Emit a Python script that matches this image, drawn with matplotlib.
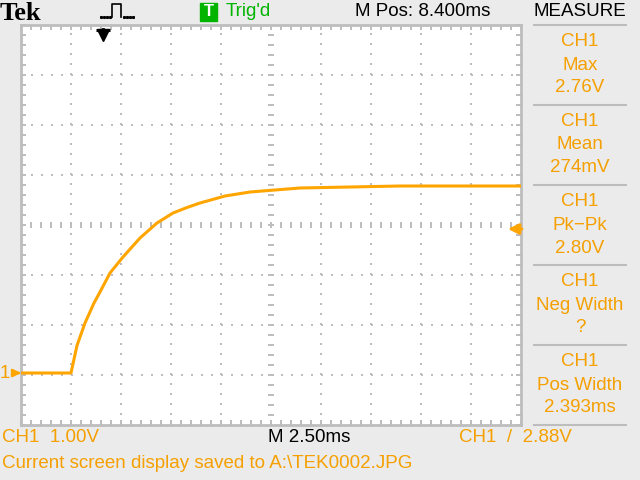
import numpy as np
import matplotlib.pyplot as plt
from matplotlib.lines import Line2D
from matplotlib.patches import Rectangle

plt.rcParams['lines.scale_dashes'] = False

# ── colours ─────────────────────────────────────────────
ORANGE = '#FFA500'
TXT_OR = '#F5A000'
GRAY   = '#BDBDBD'
BG     = '#EBEBEB'
GREEN  = '#00B400'
FONT   = ['Liberation Sans', 'DejaVu Sans']
FS     = 13.5

# ── scope settings ──────────────────────────────────────
sec_div    = 2.5      # ms / div
volt_div   = 1.0      # V / div
m_pos      = 8.4      # ms, screen centre after trigger
ground_div = -2.96    # CH1 ground marker, div from centre
trig_level = 2.88     # V

# ── CH1 trace (ms after trigger, V) ─────────────────────
t_ms  = [-4.1, -1.6, -1.3, -0.9, -0.45, -0.15, 0.35, 1.0, 1.85, 2.7, 3.5,
         4.2, 4.85, 6.1, 7.35, 8.6, 9.85, 12.35, 14.85, 17.35, 20.9]
ch1_v = [0.0, 0.0, 0.55, 1.0, 1.4, 1.62, 2.0, 2.32, 2.7, 3.0, 3.2,
         3.31, 3.4, 3.54, 3.62, 3.66, 3.70, 3.72, 3.74, 3.74, 3.74]

measures = [('Max', '2.76V'), ('Mean', '274mV'), ('Pk\u2212Pk', '2.80V'),
            ('Neg Width', '?'), ('Pos Width', '2.393ms')]

W, H = 640, 480
def px(x, y):
    return x / W, 1 - y / H

fig = plt.figure(figsize=(6.4, 4.8), dpi=100)
fig.patch.set_facecolor(BG)

# ── graticule ───────────────────────────────────────────
ax = fig.add_axes([21 / W, 1 - 425 / H, 500 / W, 400 / H])
ax.set_facecolor('white')
x0 = m_pos - 5 * sec_div
x1 = m_pos + 5 * sec_div
yc = -ground_div * volt_div
y0, y1 = yc - 4 * volt_div, yc + 4 * volt_div
ax.set_xlim(x0, x1)
ax.set_ylim(y0, y1)

xg = np.linspace(x0, x1, 11)
yg = np.linspace(y0, y1, 9)
dots = (0, (1.44, 5.76))
for i, xv in enumerate(xg[1:-1], 1):
    if i != 5:
        ax.axvline(xv, color=GRAY, lw=1.44, ls=dots, zorder=1)
for i, yv in enumerate(yg[1:-1], 1):
    if i != 4:
        ax.axhline(yv, color=GRAY, lw=1.44, ls=dots, zorder=1)
# centre lines with minor dashes
xm = np.linspace(x0, x1, 51)[1:-1]
ym = np.linspace(y0, y1, 41)[1:-1]
ax.plot(xm, [yc] * len(xm), ls='none', marker='|', ms=4.5, mew=1.4, color=GRAY, zorder=1)
ax.plot([m_pos] * len(ym), ym, ls='none', marker='_', ms=4.5, mew=1.4, color=GRAY, zorder=1)

for s in ax.spines.values():
    s.set_color(GRAY)
    s.set_linewidth(2)
ax.set_xticks(xg)
ax.set_yticks(yg)
ax.set_xticks(np.linspace(x0, x1, 51), minor=True)
ax.set_yticks(np.linspace(y0, y1, 41), minor=True)
ax.tick_params(which='both', direction='in', length=3.5, width=1.4, color=GRAY,
               top=True, right=True, labelbottom=False, labelleft=False)

ax.plot(t_ms, ch1_v, color=ORANGE, lw=2.2, zorder=3, solid_capstyle='butt')

# ground marker, trigger level, trigger position
ax.annotate('1', xy=(x0, 0), xytext=(-11.5, 0), textcoords='offset points',
            color=TXT_OR, fontsize=FS, va='center', ha='center', family=FONT,
            arrowprops=dict(arrowstyle='-|>', color=ORANGE, lw=1.8, mutation_scale=11,
                            shrinkA=3, shrinkB=0),
            annotation_clip=False)
ax.annotate('', xy=(x1 - 0.65, trig_level), xytext=(x1 + 0.05, trig_level),
            arrowprops=dict(arrowstyle='-|>', color=ORANGE, lw=2, mutation_scale=16,
                            shrinkA=0, shrinkB=0),
            annotation_clip=False)
ax.plot([0], [y1 - 0.2], marker='v', ms=8, color='black', clip_on=False, zorder=5)
ax.plot([0], [y1 - 0.1], marker='_', ms=10, mew=2.2, color='black', clip_on=False, zorder=5)
ax.plot([0, 0], [y1 - 0.08, y1 - 0.25], color='black', lw=2, clip_on=False, zorder=5)

# ── top status bar ──────────────────────────────────────
fig.text(*px(0, 13), 'Tek', fontsize=19, fontweight='bold', family='Liberation Serif',
         va='center', ha='left')
pulse_x = [112, 112, 121, 121]
pulse_y = [17, 4, 4, 17]
fig.add_artist(Line2D([v / W for v in pulse_x], [1 - v / H for v in pulse_y],
                      color='black', lw=1.2, transform=fig.transFigure))
dot_x = [101, 104, 107, 110, 124, 127, 130, 133]
fig.add_artist(Line2D([v / W for v in dot_x], [1 - 17 / H] * len(dot_x), ls='none',
                      marker='s', ms=1.2, color='black', transform=fig.transFigure))
fig.add_artist(Rectangle(px(200, 21), 17 / W, 18 / H, color=GREEN,
                         transform=fig.transFigure))
fig.text(*px(208.5, 12), 'T', color='white', fontsize=12, fontweight='bold',
         ha='center', va='center', family=FONT)
fig.text(*px(226, 12), "Trig'd", color=GREEN, fontsize=FS, ha='left', va='center', family=FONT)
fig.text(*px(423, 12), 'M Pos: 8.400ms', color='black', fontsize=FS, ha='center',
         va='center', family=FONT)

# ── measure panel ───────────────────────────────────────
fig.text(*px(580, 12), 'MEASURE', color='black', fontsize=FS, ha='center',
         va='center', family=FONT)
for k in range(6):
    yy = 25 + 80 * k
    fig.add_artist(Line2D([534 / W, 626 / W], [1 - yy / H] * 2, color=GRAY, lw=1.5,
                          transform=fig.transFigure))
for k, (name, val) in enumerate(measures):
    base = 42 + 80 * k
    for j, s in enumerate(['CH1', name, val]):
        fig.text(*px(580, base + j * 23), s, color=TXT_OR, fontsize=FS,
                 ha='center', va='center', family=FONT)

# ── bottom bar ──────────────────────────────────────────
fig.text(*px(2, 437), 'CH1  1.00V', color=TXT_OR, fontsize=FS, ha='left',
         va='center', family=FONT)
fig.text(*px(268, 437), 'M 2.50ms', color='black', fontsize=FS, ha='left',
         va='center', family=FONT)
fig.text(*px(459, 437), 'CH1  /  2.88V', color=TXT_OR, fontsize=FS, ha='left',
         va='center', family=FONT)
fig.text(*px(2, 464), 'Current screen display saved to A:\\TEK0002.JPG', color=TXT_OR,
         fontsize=FS, ha='left', va='center', family=FONT)

fig.savefig('out.png', dpi=100, facecolor=BG)
